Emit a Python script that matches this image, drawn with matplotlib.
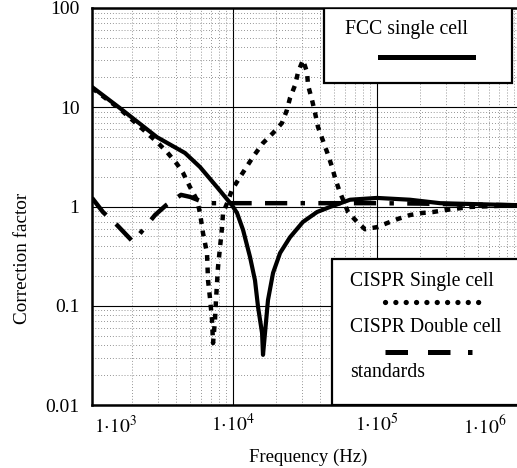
import matplotlib
matplotlib.use("Agg")
import matplotlib.pyplot as plt
from matplotlib.ticker import LogLocator, NullFormatter, FixedLocator, FixedFormatter
from matplotlib.patches import Rectangle
from matplotlib.lines import Line2D

plt.rcParams['font.family'] = ['Liberation Serif', 'DejaVu Serif']
plt.rcParams['mathtext.fontset'] = 'stix'

# ---- data (frequency in Hz, correction factor) ----
fcc_f = [1050, 1640, 2965, 4645, 5900, 7740, 9840, 10670, 11750, 13130, 14220,
         14930, 15920, 16160, 16680, 17500, 18970, 21230, 24890, 30630, 38370,
         47200, 65000, 100000, 169400, 274000, 937000]
fcc_y = [16.0, 9.8, 5.0, 3.46, 2.50, 1.57, 1.03, 0.86, 0.58, 0.31, 0.18,
         0.097, 0.053, 0.032, 0.053, 0.114, 0.214, 0.34, 0.49, 0.70, 0.88,
         0.99, 1.17, 1.22, 1.17, 1.08, 1.03]

single_f = [1050, 1640, 2530, 2965, 3480, 4085, 4500, 5030, 5630, 5900, 6190,
            6600, 6710, 6920, 7150, 7270, 7500, 7620, 7870, 8130, 8390, 8530,
            9100, 9840, 11190, 13770, 16160, 18970, 21880, 23700, 24890, 26980,
            28310, 30630, 32660, 33190, 35400, 37150, 38940, 41500, 44980,
            48740, 51150, 54500, 62920, 72640, 82570, 100000, 117400, 139900,
            169400, 205400, 245000, 296500, 442600, 937000]
single_y = [15.6, 9.6, 5.5, 4.47, 3.54, 2.68, 2.18, 1.57, 1.16, 0.86, 0.54,
            0.34, 0.18, 0.12, 0.072, 0.042, 0.072, 0.114, 0.245, 0.39, 0.61, 0.86,
            1.08, 1.47, 1.98, 3.16, 4.36, 5.5, 6.94, 9.4, 12.4, 16.7,
            22.6, 29.9, 22.6, 16.7, 11.8, 8.75, 6.32, 4.9, 3.54,
            2.5, 1.94, 1.47, 0.88, 0.70, 0.59, 0.62, 0.68, 0.75,
            0.82, 0.86, 0.88, 0.92, 0.99, 1.03]

double_f = [1050, 1250, 1566, 2023, 2297, 2874, 3430, 4355, 5030, 6500,
            13130, 100000, 200000, 377000, 937000]
double_y = [1.22, 0.88, 0.65, 0.44, 0.55, 0.82, 1.03, 1.31, 1.25, 1.08,
            1.08, 1.08, 1.07, 1.05, 1.03]

y_ticks = [0.01, 0.1, 1, 10, 100]
y_labels = ['0.01', '0.1', '1', '10', '100']
x_ticks = [1e4, 1e5]
x_labels = [r'$1{\cdot}10^{4}$', r'$1{\cdot}10^{5}$']
x_end_labels = [r'$1{\cdot}10^{3}$', r'$1{\cdot}10^{6}$']

legend1 = 'FCC single cell'
legend2 = ['CISPR Single cell', 'CISPR Double cell', 'standards']

# ---- figure ----
fig = plt.figure(figsize=(5.17, 4.68), dpi=100)
ax = fig.add_axes([92/517, 63/468, 427/517, 397/468])
ax.set_xscale('log')
ax.set_yscale('log')
ax.set_xlim(10**3.021, 10**5.986)
ax.set_ylim(0.01, 100)

dotted = (0, (1.3, 1.5))
dashdot = (0, (5, 3, 5, 3, 1, 3))

ax.plot(fcc_f, fcc_y, color='black', lw=3.0, solid_joinstyle='round', zorder=5)
ax.plot(single_f, single_y, color='black', lw=3.2, linestyle=dotted, zorder=4)
ax.plot(double_f, double_y, color='black', lw=3.2, linestyle=dashdot, zorder=4)

ax.xaxis.set_major_locator(FixedLocator(x_ticks))
ax.xaxis.set_major_formatter(FixedFormatter(x_labels))
ax.xaxis.set_minor_locator(LogLocator(base=10, subs=range(2, 10), numticks=20))
ax.xaxis.set_minor_formatter(NullFormatter())
ax.yaxis.set_major_locator(FixedLocator(y_ticks))
ax.yaxis.set_major_formatter(FixedFormatter(y_labels))
ax.yaxis.set_minor_locator(LogLocator(base=10, subs=range(2, 10), numticks=20))
ax.yaxis.set_minor_formatter(NullFormatter())

ax.tick_params(which='both', length=0)
ax.tick_params(axis='y', labelsize=14, pad=9)
ax.tick_params(axis='x', labelsize=14, pad=6)

ax.grid(which='major', color='black', lw=0.8, linestyle='-')
ax.grid(which='minor', color='0.45', lw=0.6, linestyle=(0, (1, 2.5)))
ax.set_axisbelow(True)

for s in ax.spines.values():
    s.set_linewidth(1.8)

# end tick labels (outside the visible decades)
ax.text(0.054, -0.025, x_end_labels[0], transform=ax.transAxes, ha='center', va='top', fontsize=14)
ax.text(0.920, -0.025, x_end_labels[1], transform=ax.transAxes, ha='center', va='top', fontsize=14)

fig.text(308/517, 1 - 457/468, 'Frequency (Hz)', ha='center', va='center', fontsize=13.5)
fig.text(23/517, 1 - 258/468, 'Correction factor', ha='center', va='center',
         rotation=90, fontsize=13.8)

# ---- legend boxes ----
ax.add_patch(Rectangle((0.543, 0.811), 0.441, 0.189, transform=ax.transAxes,
                       facecolor='white', edgecolor='black', lw=1.6, zorder=10))
ax.text(0.593, 0.945, legend1, transform=ax.transAxes, ha='left', va='center',
        fontsize=14.2, zorder=11)
ax.add_line(Line2D([0.674, 0.892], [0.877, 0.877], transform=ax.transAxes,
                   color='black', lw=3.6, zorder=11))

ax.add_patch(Rectangle((0.562, 0.0), 0.46, 0.368, transform=ax.transAxes,
                       facecolor='white', edgecolor='black', lw=1.6, zorder=10,
                       clip_on=False))
ax.text(0.604, 0.310, legend2[0], transform=ax.transAxes, ha='left', va='center',
        fontsize=14.2, zorder=11)
ax.add_line(Line2D([0.686, 0.909], [0.259, 0.259], transform=ax.transAxes,
                   color='black', lw=3.8, linestyle=(0, (0.01, 1.95)),
                   dash_capstyle='round', zorder=11))
ax.text(0.604, 0.196, legend2[1], transform=ax.transAxes, ha='left', va='center',
        fontsize=14.2, zorder=11)
ax.add_line(Line2D([0.686, 0.889], [0.134, 0.134], transform=ax.transAxes,
                   color='black', lw=3.6, linestyle=(0, (4.5, 4, 4.5, 3.5, 1, 3)),
                   zorder=11))
ax.text(0.604, 0.081, legend2[2], transform=ax.transAxes, ha='left', va='center',
        fontsize=14.2, zorder=11)

fig.savefig('out.png', dpi=100, facecolor='white')
